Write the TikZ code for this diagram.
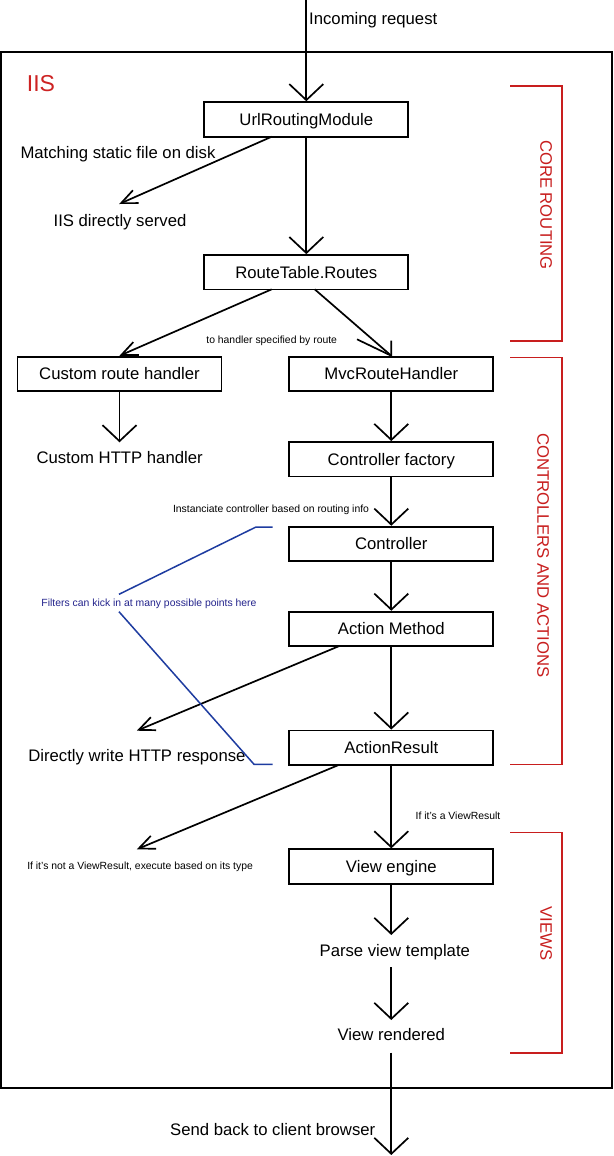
\documentclass[tikz,border=0pt]{standalone}
\usepackage{fontspec}
\setmainfont{Liberation Sans}
\usetikzlibrary{arrows.meta}
\definecolor{iisred}{RGB}{205,35,35}
\definecolor{secred}{RGB}{200,30,30}
\definecolor{fblue}{RGB}{30,60,160}
\definecolor{ftext}{RGB}{35,35,140}
\begin{document}
\begin{tikzpicture}[x=1pt,y=-1pt,
  big/.style={font=\fontsize{16.7}{20}\selectfont},
  small/.style={font=\fontsize{10.4}{12}\selectfont},
  box/.style={draw, line width=1.8pt, minimum width=204pt, minimum height=34.5pt, inner sep=0pt, text height=12pt, text depth=0pt, big},
  lbl/.style={big, inner sep=0pt, anchor=base},
  slbl/.style={small, inner sep=0pt, anchor=base},
  conn/.style={line width=1.7pt, -{Straight Barb[length=16pt,width=34pt]}},
  diag/.style={line width=1.7pt, -{Straight Barb[length=16pt,width=14pt]}},
  plain/.style={line width=1.7pt},
  sect/.style={secred, line width=1.6pt},
  secttext/.style={text=secred, big, rotate=-90, inner sep=0pt},
  filt/.style={fblue, line width=1.5pt}
]
\useasboundingbox (0,0) rectangle (613,1156);
\fill[white] (0,0) rectangle (613,1156);

% outer IIS frame
\draw[line width=2pt] (1,51.7) rectangle (611.5,1088);
\node[text=iisred, font=\fontsize{23}{26}\selectfont, inner sep=0pt, anchor=base west] (iis) at (26.7,91.7) {IIS};

% boxes
\node[box] (url) at (306.3,119.4) {UrlRoutingModule};
\node[box] (routes) at (306.3,272.3) {RouteTable.Routes};
\node[box] (custom) at (119.5,373.9) {Custom route handler};
\node[box] (mvc) at (391.3,373.9) {MvcRouteHandler};
\node[box] (factory) at (391.3,459.2) {Controller factory};
\node[box] (controller) at (391.3,543.9) {Controller};
\node[box] (method) at (391.3,628.9) {Action Method};
\node[box] (result) at (391.3,747.7) {ActionResult};
\node[box] (engine) at (391.3,866.5) {View engine};

% plain labels
\node[lbl, anchor=base west] (incoming) at (309,25) {Incoming request};
\node[lbl, anchor=base west] (matching) at (20.3,158) {Matching static file on disk};
\node[lbl] (served) at (120,226) {IIS directly served};
\node[lbl] (http) at (119.6,463.3) {Custom HTTP handler};
\node[lbl] (direct) at (136.9,761.7) {Directly write HTTP response};
\node[lbl] (parse) at (394.8,956) {Parse view template};
\node[lbl] (rendered) at (391.3,1040.7) {View rendered};
\node[lbl] (send) at (272.7,1135.3) {Send back to client browser};

% small labels
\node[slbl] (tohandler) at (271.7,343) {to handler specified by route};
\node[slbl] (inst) at (271,512.7) {Instanciate controller based on routing info};
\node[slbl, text=ftext] (filters) at (149,606) {Filters can kick in at many possible points here};
\node[slbl] (isview) at (458,819) {If it's a ViewResult};
\node[slbl] (notview) at (140.1,869.2) {If it's not a ViewResult, execute based on its type};

% section labels
\node[secttext] (core) at (546,205) {CORE ROUTING};
\node[secttext] (ctrl) at (543,555.3) {CONTROLLERS AND ACTIONS};
\node[secttext] (views) at (546,933.7) {VIEWS};

% coordinates
\coordinate (top) at (306.3,0);
\coordinate (urlL) at (271.7,136.7);
\coordinate (servedTip) at (119.2,204);
\coordinate (rtL) at (271.7,289.3);
\coordinate (rtR) at (314.7,289.3);
\coordinate (httpTip) at (119.5,442.3);
\coordinate (amL) at (339.3,646);
\coordinate (dwTip) at (136.8,730.7);
\coordinate (arL) at (339.3,764.7);
\coordinate (nvTip) at (136.8,849.3);
\coordinate (parseTip) at (391.3,935);
\coordinate (parseOut) at (391.3,967.3);
\coordinate (renderTip) at (391.3,1020);
\coordinate (renderOut) at (391.3,1052.7);
\coordinate (bottom) at (391.3,1155);
\coordinate (mvcArmA) at (391.3,340.5);
\coordinate (mvcArmB) at (357,339.3);

% connectors
\draw[conn] (top) -- (url.north);
\draw[conn] (url.south) -- (routes.north);
\draw[diag] (urlL) -- (servedTip);
\draw[diag] (rtL) -- (custom.north);
\draw[plain, line join=miter] (rtR) -- (mvc.north);
\draw[plain] (mvcArmA) -- (mvc.north) -- (mvcArmB);
\draw[conn] (custom.south) -- (httpTip);
\draw[conn] (mvc.south) -- (factory.north);
\draw[conn] (factory.south) -- (controller.north);
\draw[conn] (controller.south) -- (method.north);
\draw[conn] (method.south) -- (result.north);
\draw[diag] (amL) -- (dwTip);
\draw[conn] (result.south) -- (engine.north);
\draw[diag] (arL) -- (nvTip);
\draw[conn] (engine.south) -- (parseTip);
\draw[conn] (parseOut) -- (renderTip);
\draw[conn] (renderOut) -- (bottom);

% section brackets
\draw[sect] (510,85.7) -- (561.8,85.7) -- (561.8,340.7) -- (510,340.7);
\draw[sect] (510,357.5) -- (561.8,357.5) -- (561.8,764.3) -- (510,764.3);
\draw[sect] (510,832.3) -- (561.8,832.3) -- (561.8,1052.7) -- (510,1052.7);

% filter lines
\coordinate (f1) at (272.5,527);
\coordinate (f2) at (256,527);
\coordinate (f3) at (119,594.3);
\coordinate (f4) at (119,611.7);
\coordinate (f5) at (254,764.3);
\coordinate (f6) at (272.5,764.3);
\draw[filt] (f1) -- (f2) -- (f3);
\draw[filt] (f4) -- (f5) -- (f6);
\end{tikzpicture}
\end{document}
